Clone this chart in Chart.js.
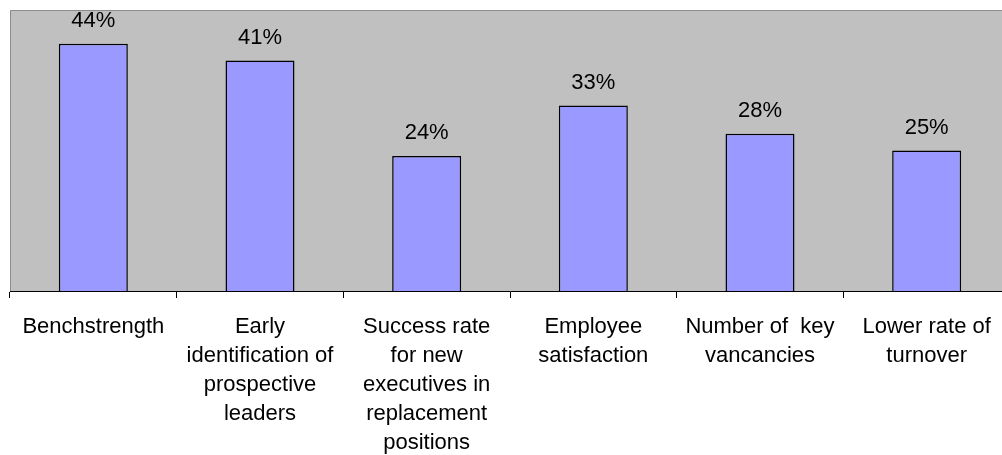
<!DOCTYPE html>
<html>
<head>
<meta charset="utf-8">
<script src="https://cdn.jsdelivr.net/npm/chart.js@4"></script>
<style>
  html, body { margin: 0; padding: 0; background: #fff; overflow: hidden; }
  #wrap { width: 1010px; height: 455px; }
</style>
</head>
<body>
<div id="wrap"><canvas id="bar-chart" width="1010" height="455"></canvas></div>
<script>
const categories = [
    "Benchstrength",
    ["Early", "identification of", "prospective", "leaders"],
    ["Success rate", "for new", "executives in", "replacement", "positions"],
    ["Employee", "satisfaction"],
    ["Number of  key", "vancancies"],
    ["Lower rate of", "turnover"]
];
const values = [44, 41, 24, 33, 28, 25];
const valueLabels = ["44%", "41%", "24%", "33%", "28%", "25%"];

const FONT = "'Liberation Sans', Arial, sans-serif";

// gray plot area with left/top border
const plotBg = {
    id: "plotBg",
    beforeDraw(chart) {
        const { ctx, chartArea: a } = chart;
        ctx.save();
        ctx.fillStyle = "#c0c0c0";
        ctx.fillRect(a.left, a.top, a.right - a.left, a.bottom - a.top);
        ctx.strokeStyle = "#8c8c8c";
        ctx.lineWidth = 1;
        ctx.beginPath();
        ctx.moveTo(a.left + 0.5, a.bottom);
        ctx.lineTo(a.left + 0.5, a.top + 0.5);
        ctx.lineTo(a.right, a.top + 0.5);
        ctx.stroke();
        ctx.restore();
    }
};

// value labels over the bars
const barLabels = {
    id: "barLabels",
    afterDatasetsDraw(chart) {
        const { ctx } = chart;
        ctx.save();
        ctx.font = "22px " + FONT;
        ctx.fillStyle = "#000";
        ctx.textAlign = "center";
        ctx.textBaseline = "alphabetic";
        chart.getDatasetMeta(0).data.forEach((bar, i) => {
            ctx.fillText(valueLabels[i], bar.x, bar.y - 17);
        });
        ctx.restore();
    }
};

new Chart(document.querySelector("#bar-chart").getContext("2d"), {
    type: "bar",
    data: {
        labels: categories,
        datasets: [{
            data: values,
            backgroundColor: "#9999ff",
            borderColor: "#000",
            borderWidth: 1.5,
            categoryPercentage: 1,
            barPercentage: 0.414
        }]
    },
    options: {
        responsive: false,
        animation: false,
        layout: { padding: { left: 10, top: 10, right: 0, bottom: 0 } },
        plugins: { legend: { display: false }, tooltip: { enabled: false } },
        scales: {
            y: { display: false, min: 0, max: 50 },
            x: {
                afterFit: s => { s.height = 164; },
                border: { color: "#000", width: 1 },
                grid: { drawOnChartArea: false, tickLength: 7, color: "#000", offset: true },
                ticks: {
                    color: "#000",
                    padding: 14,
                    maxRotation: 0,
                    autoSkip: false,
                    font: { family: FONT, size: 22, lineHeight: 1.32 }
                }
            }
        }
    },
    plugins: [plotBg, barLabels]
});
</script>
</body>
</html>
